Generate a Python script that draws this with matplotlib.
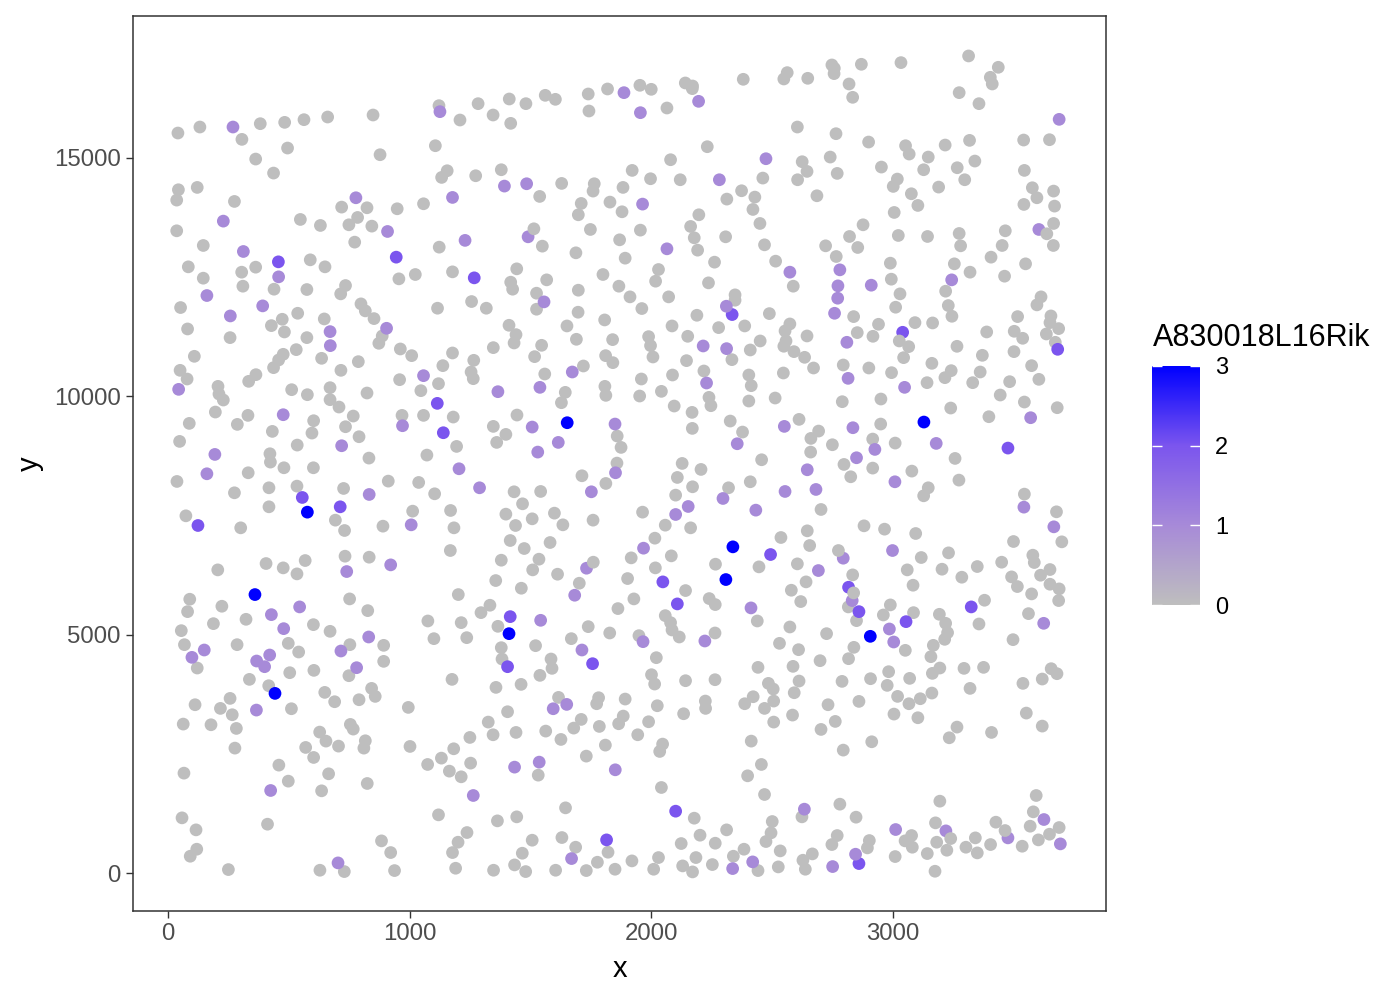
import matplotlib
matplotlib.use("Agg")
import matplotlib.pyplot as plt
import numpy as np
from matplotlib.colors import LinearSegmentedColormap

plt.rcParams['font.family'] = ['Liberation Sans', 'DejaVu Sans']

gene = "A830018L16Rik"
x_ticks = [0, 1000, 2000, 3000]
y_ticks = [0, 5000, 10000, 15000]
legend_ticks = [0, 1, 2, 3]

# spots with no expression
grey_spots = [
    (41,15523),(132,15649),(382,15719),(483,15747),(563,15803),(661,15859),(849,15901),(1122,16097),(1209,15796),
    (306,15390),(495,15208),(363,14977),(878,15068),(1107,15257),(437,14683),(1156,14732),(1133,14592),(43,14333),
    (121,14382),(36,14116),(275,14088),(719,13969),(824,13955),(949,13934),(1058,14039),(548,13710),(631,13584),
    (785,13752),(749,13598),(844,13570),(36,13472),(773,13234),(1123,13129),(146,13164),(589,12863),(650,12716),
    (84,12716),(305,12604),(363,12709),(146,12478),(1024,12555),(1178,12611),(956,12464),(310,12310),(439,12247),
    (575,12240),(735,12324),(715,12149),(52,11862),(799,11939),(817,11792),(1116,11848),(473,11616),(537,11742),
    (647,11623),(853,11630),(81,11413),(428,11483),(482,11350),(257,11231),(575,11231),(887,11266),(873,11112),
    (531,10979),(962,10993),(1009,10853),(1178,10909),(109,10839),(477,10881),(458,10762),(437,10601),(636,10797),
    (788,10727),(716,10545),(1138,10643),(50,10545),(79,10363),(364,10454),(334,10314),(959,10349),(1120,10265),
    (1047,10118),(207,10209),(211,10048),(229,9922),(512,10139),(577,10034),(671,10181),(824,10069),(671,9929),
    (708,9775),(196,9670),(331,9600),(287,9411),(603,9488),(767,9586),(969,9600),(1058,9600),(1181,9565),(88,9432),
    (432,9264),(596,9229),(735,9362),(791,9152),(48,9054),(535,8977),(1195,8949),(422,8795),(424,8620),(832,8704),
    (1072,8767),(480,8501),(602,8501),(332,8396),(37,8214),(912,8221),(1038,8193),(418,8081),(534,8116),(727,8067),
    (1104,7955),(275,7976),(418,7682),(1170,7605),(1013,7591),(74,7493),(693,7402),(301,7241),(731,7185),(890,7276),
    (1184,7241),(1169,6765),(733,6646),(833,6625),(568,6555),(406,6492),(477,6401),(534,6275),(206,6359),(90,5743),
    (752,5750),(1202,5841),(223,5596),(81,5483),(827,5504),(188,5231),(323,5322),(55,5084),(602,5210),(671,5070),
    (1076,5287),(1214,5252),(68,4790),(286,4790),(498,4818),(541,4636),(753,4790),(893,4776),(1101,4916),(1237,4937),
    (121,4300),(893,4440),(504,4202),(604,4251),(749,4139),(337,4062),(1176,4062),(417,3929),(649,3789),(843,3873),
    (858,3705),(791,3635),(690,3593),(257,3663),(112,3530),(217,3453),(266,3320),(511,3446),(995,3474),(63,3124),
    (178,3110),(283,3033),(755,3117),(767,3019),(628,2956),(654,2767),(817,2774),(811,2620),(706,2662),(570,2634),
    (277,2620),(1002,2655),(603,2424),(1183,2606),(1132,2410),(1075,2277),(1165,2137),(1214,2018),(459,2263),(66,2095),
    (665,2081),(498,1927),(825,1878),(636,1724),(58,1157),(116,905),(412,1024),(1120,1220),(884,674),(922,429),
    (1238,849),(1201,646),(1178,429),(119,499),(92,352),(250,72),(629,58),(730,30),(938,51),(1191,100),
    (1284,16139),(1346,15901),(1413,16237),(1419,15726),(1482,16139),(1562,16314),(1604,16230),(1740,16342),(1743,15985),
    (1820,16447),(1954,16524),(2001,16440),(2066,16048),(2142,16573),(2172,16510),(2171,16454),(2382,16650),(2550,16657),
    (2564,16790),(2233,15236),(2081,14963),(1922,14739),(1380,14753),(1274,14627),(1630,14466),(1765,14459),(1760,14305),
    (1884,14382),(1998,14564),(2121,14543),(2463,14578),(1539,14193),(1711,14046),(1830,14074),(1880,13871),(1699,13808),
    (2314,14137),(2375,14312),(2430,14179),(2422,13920),(2198,13808),(2451,13626),(2164,13563),(1749,13500),(1956,13486),
    (1870,13283),(2179,13325),(2309,13346),(1550,13150),(2470,13178),(2193,13066),(1689,13010),(1893,12898),(2263,12814),
    (2516,12835),(1444,12674),(2031,12660),(1419,12394),(1568,12443),(1801,12555),(2019,12415),(2238,12380),(1427,12247),
    (1867,12310),(1699,12226),(1526,12163),(1913,12086),(2073,12086),(2348,12128),(2348,12016),(1257,11988),(1318,11848),
    (1526,11827),(1698,11764),(1962,11841),(1808,11602),(2190,11700),(2490,11735),
    (1412,11490),(1652,11476),(2087,11476),(2280,11441),(2388,11476),(1441,11294),(1433,11119),(1691,11196),(1841,11189),
    (1990,11252),(2152,11259),(1347,11021),(1547,11070),(1998,11063),(2452,11161),(2411,10972),(2575,11518),(2555,11371),
    (2559,11161),(2550,11050),(2592,10937),(2636,10818),(2673,10594),(2646,11266),(1518,10832),(1266,10755),(2008,10825),
    (1812,10853),(1842,10706),(2147,10748),(2335,10769),(1720,10636),(1255,10510),(1264,10370),(1560,10468),(2219,10531),
    (2405,10447),(2548,10489),(2089,10447),(1960,10363),(2415,10223),(1809,10209),(1645,10083),(1813,10020),(2043,10104),
    (1953,10006),(2240,9978),(2405,9901),(2514,9964),(1629,9866),(2248,9803),(2096,9796),(2170,9663),(1445,9607),
    (1347,9369),(1399,9201),(2328,9481),(2171,9327),(2379,9250),(1860,9166),(1361,9033),(1876,8928),(2458,8669),
    (1859,8599),(2129,8592),(2207,8466),(1714,8333),(2109,8298),(1813,8172),(2411,8207),(2172,8102),(1433,7997),
    (1543,8004),(2321,8081),(2102,7927),(1468,7745),(1399,7528),(1600,7549),(1965,7570),(1508,7430),(1635,7304),
    (1760,7402),(2059,7297),(2164,7241),(1439,7290),(1417,6975),(1582,6933),(2016,7024),(1475,6807),(2538,7038),
    (2084,6653),(1918,6611),(1536,6583),(1380,6562),(2267,6478),(1510,6359),(2018,6401),(2447,6422),(1613,6268),
    (1357,6135),(1903,6177),(1703,6079),(1463,5974),(2143,5925),(1929,5750),(2241,5757),(2266,5631),
    (1333,5617),(1296,5462),(1863,5547),(1366,5175),(1740,5168),(1829,5035),(2059,5399),(2081,5252),(2087,5098),
    (2117,4951),(2265,5035),(1670,4916),(1950,4979),(1522,4769),(2440,5287),(2532,4818),(1380,4727),(1383,4489),
    (1586,4489),(2022,4517),(1590,4293),(2443,4314),(1540,4146),(2002,4160),(1462,3957),(1358,3894),(2015,3964),
    (2143,4034),(2265,4055),(2486,3978),(2506,3859),(2423,3698),(1617,3684),(1783,3677),(1775,3551),(1893,3649),
    (2508,3607),(2388,3551),(2470,3453),(2026,3509),(2225,3607),(2226,3453),(1406,3383),(2135,3341),(1885,3292),
    (1711,3222),(1326,3166),(1866,3131),(1990,3173),(2508,3166),(1786,3075),(1680,3040),(1441,2949),(1346,2900),
    (1564,2977),(1945,2900),(1250,2844),(1627,2802),(2415,2767),(1811,2683),(2048,2704),(2036,2550),(1732,2452),
    (1253,2305),(1533,2053),(2457,2277),(2400,2039),(2043,1794),(2470,1647),(1646,1367),(1444,1178),(1364,1094),
    (2179,1150),(2502,1080),(2313,905),(2497,842),(2203,793),(1508,688),(1631,744),(2125,618),(2266,625),(2476,660),
    (1467,415),(1688,541),(1822,436),(2385,499),(2535,464),(2341,352),(1435,170),(1778,226),(2031,324),(2186,324),
    (1921,254),(2254,177),(2131,149),(1348,58),(1481,30),(1605,58),(1732,51),(1851,79),(2011,79),(2172,23),(2443,51),
    (2527,128),
    (2649,16671),(2749,16951),(2759,16881),(2758,16769),(2871,16965),(2820,16552),(2835,16272),(3035,17000),(3315,17140),
    (3438,16902),(3405,16692),(3413,16552),(3276,16370),(3358,16139),(2606,15649),(2766,15509),(2901,15334),(3054,15257),
    (3069,15082),(3218,15271),(3319,15369),(3543,15376),(3650,15383),(2626,14921),(2742,15019),(2646,14718),(2771,14676),
    (2607,14543),(2954,14809),(3148,15019),(3129,14753),(3268,14795),(3341,14935),(3299,14543),(3546,14739),(3020,14557),
    (3003,14403),(3191,14389),(3078,14249),(2687,14207),(3579,14375),(3598,14165),(3667,14305),(3544,14025),(3671,13990),
    (3105,14004),(3007,13857),(2878,13598),(3667,13626),(2822,13353),(3024,13374),(3145,13353),(3276,13416),(3467,13472),
    (2723,13157),(2856,13122),(3282,13157),(3454,13164),(3666,13164),(2767,12933),(3408,12919),(2991,12793),(3256,12779),
    (3551,12779),(3321,12604),(3464,12520),(2995,12457),(2589,12310),(3031,12149),(3220,12205),(3615,12086),(3598,11918),
    (3013,11869),(3231,11904),(2839,11672),(3246,11679),(3518,11672),(3656,11686),
    (2942,11511),(3093,11546),(3166,11539),(3652,11546),(3688,11420),(2854,11336),(3390,11350),(3504,11364),(3539,11217),
    (3637,11308),(2919,11259),(3067,11042),(3267,11049),(3674,11133),(3503,10937),(3372,10860),(3046,10811),(2796,10657),
    (3163,10692),(2902,10594),(3576,10643),(3243,10538),(3363,10510),(2996,10496),(3217,10391),(3606,10356),(3143,10286),
    (3332,10286),(3485,10307),(3446,10027),(2792,9887),(2952,9943),(3546,9880),(3241,9754),(3682,9761),(3399,9572),
    (2613,9516),(2951,9418),(2694,9271),(2662,9117),(2918,9103),(3011,9019),(2751,8984),(2661,8830),(3259,8697),
    (2799,8571),(2918,8494),(3080,8431),(2827,8312),(3275,8242),(3148,8081),(3129,7913),(3546,7948),(2704,7626),
    (3679,7577),(2882,7283),(2967,7213),(2647,7178),(3096,7122),(3701,6947),(2657,6870),(3501,6954),(3232,6716),
    (3581,6667),(3119,6618),(3587,6513),(2606,6485),(3351,6429),(3452,6520),(3061,6359),(3205,6373),(3652,6366),
    (2835,6254),(3613,6247),(3287,6205),(3493,6212),(2642,6107),(3517,6009),(3652,6058),(3085,6037),(3690,5960),
    (2581,5932),(3576,5855),(2620,5694),(3381,5722),(3688,5715),(2991,5624),(2817,5582),(3087,5462),(3194,5427),
    (2962,5413),(3563,5441),(2851,5294),(2575,5161),(2727,5021),(3220,5238),(3358,5224),(3228,5042),(3216,4902),
    (3499,4895),(2611,4685),(2840,4734),(3169,4776),(3053,4671),(3159,4538),(2818,4496),(2700,4454),(2588,4335),
    (3196,4300),(3296,4293),(3377,4314),(3165,4188),(2984,4223),(3071,4083),(3657,4286),(3681,4181),(3620,4069),
    (3540,3978),(2613,4027),(2791,4020),(2909,4076),(2978,3936),(3321,3873),(2593,3782),(3163,3775),(3021,3705),
    (3115,3656),(2861,3600),(2733,3530),(3068,3551),(2586,3313),(3006,3334),(3554,3355),(3105,3257),(2763,3180),
    (2704,3012),(3267,3061),(3620,3082),(3410,2949),(3235,2837),(2914,2753),(2796,2578),(3595,1626),(3196,1507),
    (2625,1178),(2782,1444),(2849,1171),(3583,1283),(3178,1052),(3428,1066),(3570,982),(3690,954),(2771,786),(3079,786),
    (3650,814),(3343,737),(2904,681),(3052,674),(3604,695),(2749,597),(3183,646),(3406,597),(2896,527),(3082,541),
    (3304,541),(3537,562),(3225,478),(2668,401),(3351,422),(3144,408),(2629,268),(3011,345),(2639,79),(3176,37),
]

expr_one = [
    (269,15649),(1126,15971),(778,14165),(1178,14172),(229,13675),(909,13458),(1230,13271),(312,13038),(458,12506),
    (161,12114),(392,11897),(258,11686),(671,11357),(905,11427),(672,11063),(1058,10433),(44,10146),(477,9614),(971,9383),
    (719,8963),(194,8781),(1205,8480),(161,8375),(833,7941),(1007,7304),(922,6464),(740,6324),(545,5582),(428,5420),
    (479,5126),(150,4678),(99,4524),(831,4951),(716,4657),(421,4573),(367,4447),(400,4328),(781,4307),(366,3418),
    (425,1731),(704,212),(1888,16370),(1956,15950),(2197,16188),(2476,14984),(1393,14410),(1485,14459),(2283,14543),
    (1965,14032),(1491,13346),(2066,13094),(2575,12604),(1557,11981),(2312,11890),(2216,11056),(2313,11000),(1674,10510),
    (1366,10097),(1540,10188),(2230,10279),(1851,9418),(1508,9355),(2552,9369),(1616,9033),(2357,9005),(1531,8830),
    (1853,8396),(1290,8081),(1753,7997),(2555,8004),(2298,7857),(2154,7689),(2102,7521),(2434,7612),(1969,6814),
    (1733,6394),(1684,5827),(2414,5561),(1543,5301),(1967,4853),(2223,4867),(1714,4678),(1651,3537),(1595,3446),
    (1537,2326),(1435,2221),(1852,2165),(1264,1626),(1671,303),(2421,233),(2338,93),(3690,15810),
    (2782,12653),(3245,12443),(2912,12331),(2774,12317),(2773,12058),(2760,11742),(3606,13500),(2811,11133),(2816,10377),
    (3050,10188),(3572,9551),(2836,9341),(3181,9012),(2927,8886),(2851,8711),(2647,8459),(3010,8207),(2683,8046),
    (3544,7675),(3668,7262),(3000,6765),(2796,6604),(2693,6345),(2833,5715),(3626,5238),(2987,5119),(3005,4846),
    (2635,1339),(3627,1122),(3013,912),(3221,884),(3478,737),(3695,611),(2847,394),(2752,135),
]

expr_two = [
    (457,12821),(945,12919),(1115,9852),(1140,9236),(556,7878),(713,7682),(124,7290),(1268,12485),(2336,11715),(2049,6107),
    (2109,5645),(2495,6681),(1417,5378),(1406,4328),(1758,4391),(2102,1297),(1816,695),(3042,11343),(3684,10986),(3478,8914),
    (2818,5995),(3326,5582),(2861,5483),(3056,5273),(2861,198),
]

expr_three = [
    (577,7570),(360,5841),(443,3768),(1653,9446),(2339,6842),(2310,6156),(1412,5021),(3130,9460),(2908,4965),
]

# grey spots that sit on top of a coloured one
grey_on_top = [
    (1515,13514),(3639,13409),(3028,11161),(2839,5876),(2776,6765),(1761,6520),(3466,891),(3241,723),
]

layers = [(grey_spots, 0), (expr_two, 2), (expr_one, 1), (expr_three, 3), (grey_on_top, 0)]
pts = np.array([p for spots, _ in layers for p in spots])
vals = np.array([v for spots, v in layers for _ in spots])

cmap = LinearSegmentedColormap.from_list("grey_blue", ["#BEBEBE", "#A78AD8", "#7B55EE", "#0000FF"])

fig = plt.figure(figsize=(14, 10), dpi=100)
ax = fig.add_axes([133 / 1400, 1 - 911 / 1000, 973 / 1400, 895 / 1000])
sc = ax.scatter(pts[:, 0], pts[:, 1], c=vals, cmap=cmap, vmin=0, vmax=3, s=84, linewidths=0)

ax.set_xlim(-145, 3884)
ax.set_ylim(-797, 17978)
ax.set_xticks(x_ticks)
ax.set_yticks(y_ticks)
ax.tick_params(labelsize=17.3, labelcolor="#4D4D4D", color="#333333", length=5, width=1, pad=4)
ax.set_xlabel("x", fontsize=21, labelpad=7)
ax.set_ylabel("y", fontsize=21, labelpad=7)
for spine in ax.spines.values():
    spine.set_color("#333333")
    spine.set_linewidth(1.1)

cax = fig.add_axes([1152 / 1400, 1 - 605 / 1000, 48 / 1400, 239 / 1000])
cb = fig.colorbar(sc, cax=cax)
cb.outline.set_visible(False)
cb.set_ticks(legend_ticks)
cb.ax.tick_params(length=0, labelsize=17, labelcolor="black", pad=11)
cb.ax.hlines(legend_ticks, 0, 0.2, color="white", linewidth=1)
cb.ax.hlines(legend_ticks, 0.8, 1, color="white", linewidth=1)
fig.text(1153 / 1400, 1 - 338 / 1000, gene, fontsize=22, ha="left", va="center")

fig.savefig("out.png", dpi=100)
